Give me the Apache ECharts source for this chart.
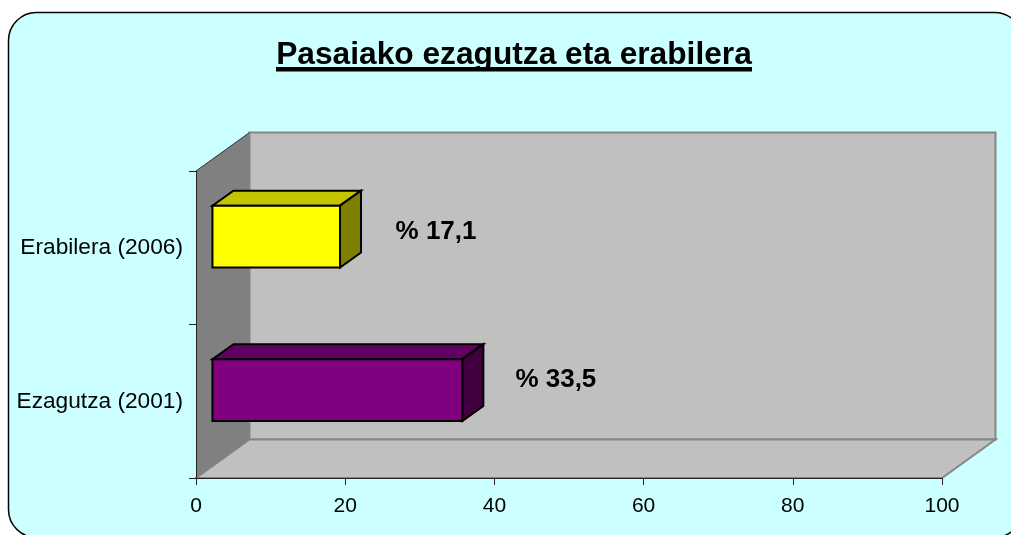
<!DOCTYPE html>
<html><head><meta charset="utf-8">
<style>html,body{margin:0;padding:0;background:#fff}#c{width:1011px;height:535px}</style>
<script src="https://cdn.jsdelivr.net/npm/echarts@6/dist/echarts.min.js"></script>
</head><body><div id="c"></div>
<script>
const titleText = 'Pasaiako ezagutza eta erabilera';
const categories = ['Ezagutza (2001)', 'Erabilera (2006)'];
const values = [33.5, 17.1];
const valueLabels = ['% 33,5', '% 17,1'];
const xTicks = [0, 20, 40, 60, 80, 100];

const faceColors = [
  {front: '#800080', top: '#600060', side: '#400040'},
  {front: '#FFFF00', top: '#C4C400', side: '#808000'}
];
const labelNudge = [[93.5, -10.5], [96, -5]];
const FONT = '"Liberation Sans", Arial, sans-serif';
const DX = 53.5, DY = -38.5;         // full chart depth
const BAR_DX = 21, BAR_DY = -15;     // bar depth

const chart = echarts.init(document.getElementById('c'), null, {renderer: 'canvas'});

function renderWalls(params, api) {
  const c = params.coordSys;
  const l = c.x, r = c.x + c.width, t = c.y, b = c.y + c.height;
  const line = (x1, y1, x2, y2, stroke, w) => ({type: 'line', shape: {x1, y1, x2, y2}, style: {stroke, lineWidth: w}});
  return {type: 'group', children: [
    {type: 'polygon', shape: {points: [[l + DX, t + DY], [r + DX, t + DY], [r + DX, b + DY], [l + DX, b + DY]]},
      style: {fill: '#C0C0C0', stroke: '#868686', lineWidth: 2}},
    {type: 'polygon', shape: {points: [[l, b], [r, b], [r + DX, b + DY], [l + DX, b + DY]]},
      style: {fill: '#C0C0C0', stroke: '#868686', lineWidth: 2}},
    {type: 'polygon', shape: {points: [[l, b], [l, t], [l + DX, t + DY], [l + DX, b + DY]]},
      style: {fill: '#808080'}},
    line(l, t, l + DX, t + DY, '#333333', 1)
  ]};
}

function renderBar(params, api) {
  const i = params.dataIndex;
  const base = api.coord([0, api.value(1)]);
  const tip = api.coord([api.value(0), api.value(1)]);
  const h = api.size([0, 1])[1] / 2.48;
  const ox = DX / 2 - BAR_DX / 2 + 0.2, oy = DY / 2 - BAR_DY / 2 + 0.6;
  const x0 = base[0] + ox, x1 = tip[0] + ox;
  const y0 = base[1] + oy - h / 2, y1 = base[1] + oy + h / 2;
  const col = faceColors[i];
  const edge = {stroke: '#000', lineWidth: 2, lineJoin: 'miter'};
  return {type: 'group', children: [
    {type: 'polygon', shape: {points: [[x0, y0], [x1, y0], [x1 + BAR_DX, y0 + BAR_DY], [x0 + BAR_DX, y0 + BAR_DY]]},
      style: Object.assign({fill: col.top}, edge)},
    {type: 'polygon', shape: {points: [[x1, y0], [x1 + BAR_DX, y0 + BAR_DY], [x1 + BAR_DX, y1 + BAR_DY], [x1, y1]]},
      style: Object.assign({fill: col.side}, edge)},
    {type: 'polygon', shape: {points: [[x0, y0], [x1, y0], [x1, y1], [x0, y1]]},
      style: Object.assign({fill: col.front}, edge)},
    {type: 'text', style: {
      x: x1 + labelNudge[i][0], y: (y0 + y1) / 2 + labelNudge[i][1],
      text: valueLabels[i], fill: '#000', align: 'center', verticalAlign: 'middle',
      font: 'bold 26px ' + FONT
    }}
  ]};
}

chart.setOption({
  animation: false,
  backgroundColor: '#fff',
  title: {
    text: titleText, left: 509, top: 34, textAlign: 'center',
    textStyle: {fontFamily: FONT, fontSize: 31.7, fontWeight: 'bold', color: '#000'}
  },
  graphic: [
    {type: 'rect', z: -10, shape: {x: 8.5, y: 12.5, width: 1014, height: 525, r: 28},
      style: {fill: '#CCFFFF', stroke: '#000', lineWidth: 1.5}},
    {type: 'rect', z: 10, shape: {x: 276, y: 67, width: 476, height: 4.5}, style: {fill: '#000'}}
  ],
  grid: {left: 196, top: 171, width: 746, height: 307, containLabel: false},
  xAxis: {
    type: 'value', min: xTicks[0], max: xTicks[xTicks.length - 1], interval: 20, z: 3,
    splitLine: {show: false},
    axisLine: {show: true, lineStyle: {color: '#222', width: 1}},
    axisTick: {show: true, length: 7, lineStyle: {color: '#222'}},
    axisLabel: {margin: 18, fontFamily: FONT, fontSize: 21, color: '#000'}
  },
  yAxis: {
    type: 'category', data: categories, z: 3,
    axisLine: {show: true, lineStyle: {color: '#222', width: 1}},
    axisTick: {show: true, length: 7, alignWithLabel: false, lineStyle: {color: '#222'}},
    axisLabel: {margin: 13, fontFamily: FONT, fontSize: 22.7, color: '#000'}
  },
  series: [
    {type: 'custom', z: 1, silent: true, clip: false, renderItem: renderWalls, data: [[0, 0]],
      encode: {x: 0, y: 1}},
    {type: 'custom', z: 5, silent: true, clip: false, renderItem: renderBar,
      data: values.map((v, i) => [v, i]), encode: {x: 0, y: 1}}
  ]
});
</script></body></html>
